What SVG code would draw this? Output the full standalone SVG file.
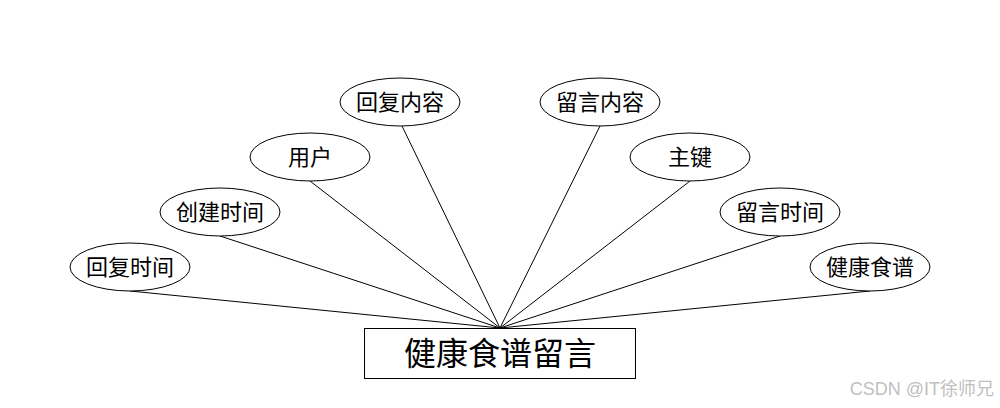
<svg xmlns="http://www.w3.org/2000/svg" width="1000" height="408" viewBox="0 0 1000 408">
<style>
.e{fill:#fff;stroke:#000;stroke-width:1}
.t{font-family:"Liberation Sans","Noto Sans CJK SC",sans-serif;font-size:22px;fill:#000;text-anchor:middle;dominant-baseline:central}
.c line{stroke:#000;stroke-width:1}
</style>
<rect width="1000" height="408" fill="#fff"/>
<g class="c" id="connectors">
<line x1="130" y1="291" x2="500" y2="328"/>
<line x1="220" y1="236" x2="500" y2="328"/>
<line x1="310" y1="181" x2="500" y2="328"/>
<line x1="402" y1="126" x2="500" y2="328"/>
<line x1="600" y1="126" x2="500" y2="328"/>
<line x1="690" y1="181" x2="500" y2="328"/>
<line x1="780" y1="236" x2="500" y2="328"/>
<line x1="870" y1="291" x2="500" y2="328"/>
</g>
<g id="entity">
<rect x="364.500" y="328.500" width="271" height="50" fill="#fff" stroke="#000"/>
<text x="500" y="354" class="t" style="font-size:32px">健康食谱留言</text>
</g>
<g id="n1"><ellipse class="e" cx="130" cy="267" rx="60" ry="24"/><text class="t" x="130" y="267">回复时间</text></g>
<g id="n2"><ellipse class="e" cx="220" cy="212" rx="60" ry="24"/><text class="t" x="220" y="212">创建时间</text></g>
<g id="n3"><ellipse class="e" cx="310" cy="157" rx="60" ry="24"/><text class="t" x="310" y="157">用户</text></g>
<g id="n4"><ellipse class="e" cx="400" cy="102" rx="60" ry="24"/><text class="t" x="400" y="102">回复内容</text></g>
<g id="n5"><ellipse class="e" cx="600" cy="102" rx="60" ry="24"/><text class="t" x="600" y="102">留言内容</text></g>
<g id="n6"><ellipse class="e" cx="690" cy="157" rx="60" ry="24"/><text class="t" x="690" y="157">主键</text></g>
<g id="n7"><ellipse class="e" cx="780" cy="212" rx="60" ry="24"/><text class="t" x="780" y="212">留言时间</text></g>
<g id="n8"><ellipse class="e" cx="870" cy="267" rx="60" ry="24"/><text class="t" x="870" y="267">健康食谱</text></g>
<text x="994" y="389" style="font-family:'Liberation Sans','Noto Sans CJK SC',sans-serif;font-size:18px;fill:#c0c0c0;text-anchor:end;dominant-baseline:central">CSDN @IT徐师兄</text>
</svg>
